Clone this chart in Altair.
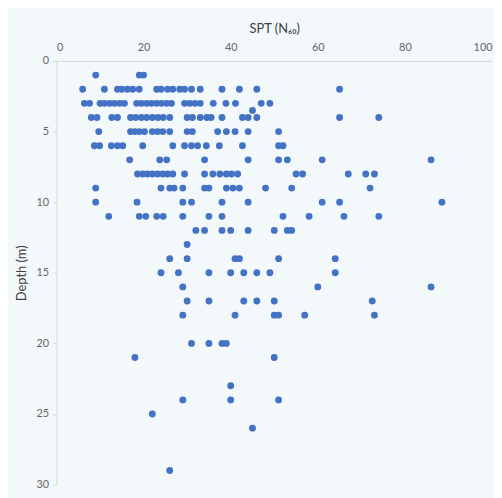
import altair as alt
import pandas as pd

# SPT N60 values read per depth (m)
rows = {
    1: [9, 19, 20],
    2: [6, 11, 14, 15, 16.3, 17.5, 19, 23, 24, 25.5, 26.7, 28.3, 29.4, 31, 33, 38, 42, 46, 65],
    3: [6.4, 7.6, 10, 11, 12.2, 13.3, 14.5, 15.6, 18.4, 19.5, 20.7, 21.8, 23, 24.1, 25.3, 26.4,
        29.4, 30.6, 31.8, 33, 36, 38.9, 41.1, 47, 49],
    3.5: [45],
    4: [8, 9.3, 12.7, 14, 17, 18.2, 19.5, 20.7, 22, 23.3, 24.5, 26, 30, 31.2, 33, 34.5, 35.5,
        38, 42.7, 44, 46, 65, 74],
    5: [9.7, 17, 18, 19, 20.2, 22, 23.2, 24.4, 26, 30, 31.2, 37, 39, 41, 44, 51],
    6: [8.7, 9.9, 12.6, 14, 15.2, 19.8, 26.7, 29.4, 31, 32.4, 34.4, 37.4, 42.7, 51, 52],
    7: [16.8, 23.7, 25.3, 34, 44, 51, 53, 61, 86],
    8: [18.6, 19.8, 20.9, 22, 23.2, 24.4, 25.5, 26.7, 29.4, 34, 35.9, 37.5, 39, 40.2, 41.6,
        55, 56.5, 67, 71, 73],
    9: [9, 24, 26, 27, 29, 34, 35, 39, 40.5, 42, 48, 54, 72],
    10: [9, 18.5, 29, 31, 38, 44, 61, 65, 88.5],
    11: [12, 19, 20.5, 23, 24.5, 29, 35, 38, 52, 58, 66, 74],
    12: [32, 34, 38, 40, 44, 50, 53, 54],
    13: [30],
    14: [26, 30, 41, 42, 51, 64],
    15: [24, 28, 35, 40, 43, 46, 49, 64],
    16: [29, 60, 86],
    17: [30, 35, 43, 46, 50, 72.5],
    18: [29, 41, 50, 51, 57, 73],
    20: [31, 35, 38, 39],
    21: [18, 50],
    23: [40],
    24: [29, 40, 51],
    25: [22],
    26: [45],
    29: [26],
}

depth_m = []
spt_n60 = []
for d, vals in rows.items():
    for v in vals:
        depth_m.append(d)
        spt_n60.append(v)

x_ticks = [0, 20, 40, 60, 80, 100]
y_ticks = [0, 5, 10, 15, 20, 25, 30]

df = pd.DataFrame({"SPT": spt_n60, "Depth": depth_m})

font = "Lato"
chart = alt.Chart(df).mark_circle(size=48, color="#4472C4", opacity=1).encode(
    x=alt.X("SPT:Q",
            scale=alt.Scale(domain=[0, 100], nice=False, zero=False),
            axis=alt.Axis(orient="top", title="SPT (N₆₀)", values=x_ticks, grid=False,
                          ticks=False, domainColor="#d9d9d9", labelColor="#666666",
                          labelFontSize=11, labelFont=font, labelPadding=9,
                          titleFont=font, titleFontSize=13, titleFontWeight="normal",
                          titleColor="#404040", titlePadding=6)),
    y=alt.Y("Depth:Q",
            scale=alt.Scale(domain=[0, 30], reverse=True, nice=False, zero=False),
            axis=alt.Axis(title="Depth (m)", values=y_ticks, grid=False,
                          ticks=True, tickSize=4, tickColor="#d9d9d9",
                          domainColor="#d9d9d9", labelColor="#666666",
                          labelFontSize=11, labelFont=font, labelPadding=4,
                          titleFont=font, titleFontSize=13, titleFontWeight="normal",
                          titleColor="#404040", titlePadding=8)),
).properties(
    width=440,
    height=428,
    background="#f3f8fb",
    autosize=alt.AutoSizeParams(type="none"),
    padding={"left": 49, "top": 51, "right": 2, "bottom": 11},
).configure_view(stroke=None)

chart.save("out.html", embed_options={"renderer": "svg", "actions": False})
